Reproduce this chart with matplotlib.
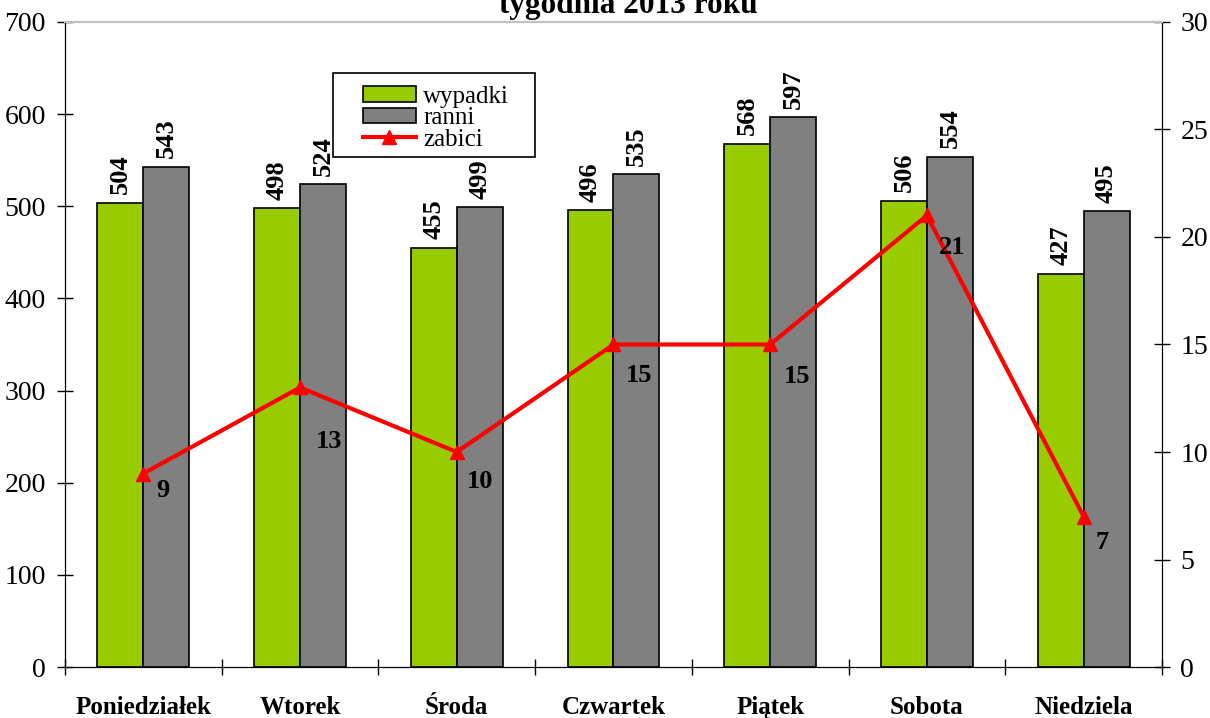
import numpy as np
import matplotlib.pyplot as plt
from matplotlib.patches import Rectangle

dni = ['Poniedziałek', 'Wtorek', 'Środa', 'Czwartek', 'Piątek', 'Sobota', 'Niedziela']
wypadki = [504, 498, 455, 496, 568, 506, 427]
ranni = [543, 524, 499, 535, 597, 554, 495]
zabici = [9, 13, 10, 15, 15, 21, 7]

# przesunięcia etykiet "zabici" (punkty)
offs = [(14.4, -12.2), (20.9, -38.9), (16.6, -20.9), (18.7, -22.3),
        (19.4, -23), (18, -23), (13, -18.7)]

plt.rcParams['font.family'] = ['Liberation Serif', 'DejaVu Serif']

fig = plt.figure(figsize=(12.1, 7.18), dpi=100)
ax = fig.add_axes([0.0537, 0.0710, 0.9066, 0.8984])
ax2 = ax.twinx()

x = np.arange(len(dni))
w = 0.293
b1 = ax.bar(x - w/2, wypadki, w, color='#99cc00', edgecolor='black', linewidth=1.2, label='wypadki')
b2 = ax.bar(x + w/2, ranni, w, color='#808080', edgecolor='black', linewidth=1.2, label='ranni')

for xi, v in zip(x, wypadki):
    ax.text(xi - w/2, v + 9, str(v), rotation=90, ha='center', va='bottom',
            fontsize=19, fontweight='bold')
for xi, v in zip(x, ranni):
    ax.text(xi + w/2, v + 9, str(v), rotation=90, ha='center', va='bottom',
            fontsize=19, fontweight='bold')

ln, = ax2.plot(x, zabici, color='red', linewidth=3, marker='^', markersize=10, label='zabici')
for xi, v, o in zip(x, zabici, offs):
    ax2.annotate(str(v), (xi, v), xytext=o, textcoords='offset points',
                 ha='center', va='center', fontsize=19, fontweight='bold')

ax.set_xlim(-0.5, len(dni) - 0.5)
ax.set_ylim(0, 700)
ax2.set_ylim(0, 30)
ax.set_yticks(range(0, 701, 100))
ax2.set_yticks(range(0, 31, 5))

ax.set_xticks(x)
ax.set_xticklabels(dni, fontsize=18, fontweight='bold')
ax.set_xticks(np.arange(-0.5, len(dni)), minor=True)
ax.tick_params(axis='x', which='major', length=0, pad=21)
ax.tick_params(axis='x', which='minor', length=11.5, direction='inout', width=1)
ax.tick_params(axis='y', labelsize=20, direction='inout', length=11.5, width=1, pad=8)
ax2.tick_params(axis='y', labelsize=20, direction='inout', length=11.5, width=1, pad=7.5)

for a in (ax, ax2):
    a.spines['top'].set_color('#c0c0c0')
    a.spines['top'].set_linewidth(1.5)

ax.add_patch(Rectangle((0.2443, 0.7907), 0.1841, 0.1302, transform=ax.transAxes,
                       fill=False, edgecolor='black', linewidth=1.2, zorder=5))
leg = ax.legend([b1, b2, ln], ['wypadki', 'ranni', 'zabici'], loc='upper left',
                bbox_to_anchor=(0.2717, 0.901), fontsize=18, frameon=False,
                handlelength=2.1, handleheight=0.6, labelspacing=-0.02,
                borderpad=0, borderaxespad=0, handletextpad=0.3)

fig.text(0.519, 0.982, 'tygodnia 2013 roku', ha='center', va='baseline',
         fontsize=22.5, fontweight='bold')

fig.savefig('out.png', dpi=100)
